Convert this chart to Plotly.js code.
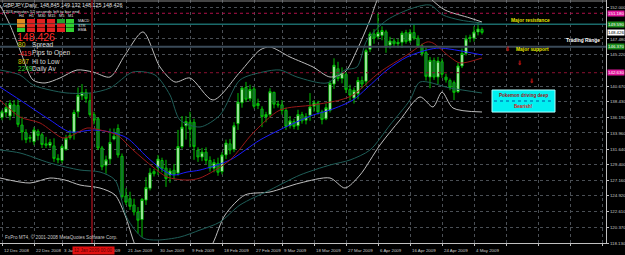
<!DOCTYPE html>
<html><head><meta charset="utf-8">
<script src="https://cdn.plot.ly/plotly-3.0.1.min.js"></script>
<style>html,body{margin:0;padding:0;background:#000;overflow:hidden}#chart{width:625px;height:255px}</style>
</head><body><div id="chart"></div>
<script>
// ---- OHLC (GBPJPY daily, bar index 0 = 12 Dec 2008) ----
const openP  = [136.2,136.9,136.4,138.0,137.9,135.1,134.0,133.2,132.7,134.2,133.7,132.4,132.2,132.1,130.3,130.0,131.6,133.3,134.0,137.0,139.3,139.8,138.6,136.6,136.0,131.8,129.3,130.2,133.1,134.6,130.6,124.9,124.5,123.6,122.6,121.5,124.3,126.0,128.4,129.0,130.0,128.9,127.9,128.6,128.2,132.0,135.0,135.5,135.5,131.5,130.5,131.2,130.0,128.9,129.6,128.4,130.8,132.4,131.6,135.3,138.3,140.5,138.9,140.3,137.9,137.4,136.3,136.6,139.8,138.1,138.0,137.2,135.0,135.6,135.0,136.6,135.8,136.5,137.8,138.3,137.0,136.0,137.2,141.0,143.2,141.8,142.4,140.2,139.0,139.6,141.5,141.4,146.0,148.2,147.8,148.0,148.5,146.6,147.2,146.8,147.0,148.4,147.2,148.4,147.6,146.5,145.5,142.0,144.4,142.0,144.2,142.0,141.5,141.2,139.9,143.6,145.4,147.6,147.6,148.5,148.845];
const highP  = [137.3,138.3,138.7,138.7,138.8,136.3,134.5,133.7,134.8,134.5,134.0,133.4,133.1,133.2,130.9,132.3,133.7,134.4,137.3,140.5,141.0,140.3,139.7,137.0,136.2,132.1,130.7,134.6,134.6,135.2,131.0,126.0,125.5,124.5,123.3,124.6,127.6,128.9,128.8,130.8,130.4,130.1,128.9,129.5,134.4,136.4,136.4,137.0,136.0,131.9,131.8,131.9,130.6,130.2,130.4,131.2,133.0,133.1,135.5,139.7,140.6,141.3,140.9,140.6,138.9,137.8,137.0,140.4,139.9,138.6,138.7,137.6,136.4,136.0,137.3,137.0,136.8,139.7,138.7,138.6,137.3,138.2,141.5,144.7,144.2,143.4,142.7,140.9,140.5,142.0,142.1,146.1,148.5,148.9,151.2,149.3,148.8,147.8,147.6,147.5,148.6,148.8,148.9,149.5,148.0,146.8,146.2,144.9,144.8,144.9,144.7,142.5,141.8,141.5,144.1,146.1,148.0,148.1,149.3,149.9,149.132];
const lowP   = [135.8,136.2,135.8,136.3,134.8,132.9,132.5,132.6,132.2,132.9,131.8,131.8,131.8,129.8,129.6,129.6,131.4,133.0,133.0,136.2,138.7,138.3,136.3,135.2,131.5,128.6,128.1,129.5,132.9,130.4,124.5,123.6,122.9,122.1,119.5,119.0,123.6,125.7,127.7,127.9,128.3,126.2,126.8,127.3,127.8,131.7,133.0,131.9,130.1,129.8,129.9,129.5,128.4,128.3,127.8,128.0,130.2,130.9,131.2,134.4,137.6,138.4,138.5,137.5,137.4,134.8,135.5,136.2,137.5,137.6,136.6,134.4,134.6,134.5,134.4,135.3,135.2,135.7,137.0,136.6,135.2,135.8,136.9,140.3,141.4,141.1,139.7,138.6,138.2,138.8,140.4,140.8,145.6,146.8,147.4,147.3,145.5,146.1,146.3,146.2,146.2,146.8,146.9,147.3,146.2,145.0,141.5,140.4,141.6,141.0,141.9,141.2,140.1,138.7,139.7,143.3,145.1,147.0,147.1,148.0,148.125];
const closeP = [137.0,137.6,138.2,137.0,135.2,134.1,133.0,133.3,134.4,133.6,132.3,132.2,132.6,130.3,130.1,132.0,133.2,133.6,136.9,139.4,139.8,138.9,136.6,135.8,131.8,129.1,130.1,132.6,133.5,130.8,124.8,124.0,123.4,122.6,121.4,124.4,126.1,128.2,128.1,130.2,128.8,127.4,128.5,128.0,132.0,134.8,135.6,134.5,132.0,130.5,131.2,130.0,128.9,129.7,128.3,130.8,132.5,131.5,135.0,138.4,140.4,138.8,140.2,137.8,138.2,136.3,136.6,139.9,138.1,138.0,137.2,134.9,135.7,134.9,136.6,135.7,136.3,137.7,138.3,137.0,135.9,137.6,141.1,143.7,141.8,142.6,140.2,139.4,140.1,141.5,141.0,145.8,148.2,147.6,148.4,148.7,146.3,147.2,146.8,147.0,148.3,147.1,148.4,147.6,146.5,145.4,142.1,144.4,142.0,144.3,142.4,141.6,140.5,139.8,143.6,145.4,147.5,147.7,148.5,148.9,148.426];

// ---- indicators (read at sample bars) ----
const maBlueX = [-0.5,4.5,12,17,22.75,27,31.25,36.25,39.5,42.75,46.25,49.5,57,64.5,72,77.75,82,87.75,91.25,96.25,101.25,106.25,109.5,120];
const maBlueY = [140.57,138.70,135.83,134.10,134.39,134.10,133.24,130.50,128.92,127.91,128.34,128.63,130.07,132.95,135.11,136.54,137.26,138.70,140.43,143.02,144.89,145.90,146.18,145.18];
const maRedX  = [-0.5,4.5,9.5,15.25,17.75,21.25,24.5,28.75,32.75,37.75,41.25,46.25,49.5,57,62.75,69.5,77.75,84.5,87.75,94.5,101.25,106.25,107.75,112,114.5,120];
const maRedY  = [138.70,136.26,135.40,133.24,133.67,134.67,134.39,133.67,131.51,129.06,127.62,127.19,127.48,130.07,133.95,137.26,137.98,138.70,139.42,142.73,145.18,147.05,146.90,144.89,144.03,144.75];
const bbOutUpX = [-0.5,2,4.5,7.75,10.75,14.5,18.75,22.75,27,30.75,35.25,39.5,43.25,47,52.75,59.5,64.5,67,72,77.75,82,85.75,88.75,92,94.5,99.5,104.5,107.5,110.75,117,120];
const bbOutUpY = [152.37,149.49,145.90,141.58,141.15,141.87,143.02,142.73,142.01,145.18,148.49,143.45,141.29,141.87,138.70,142.73,145.90,146.33,144.89,143.45,142.01,142.73,145.90,150.21,153.81,155.97,154.82,153.09,151.65,150.50,149.92];
const bbOutLoX = [-0.5,7,12,15.75,19.5,24.5,28.25,30.75,33.25,37,43.25,49.5,52.75,55.75,60.75,67,74.5,82,85.75,89.5,94.5,99.5,104.5,107.75,110,112.75,120];
const bbOutLoY = [127.48,126.76,127.48,127.19,126.47,126.04,125.04,122.16,117.84,113.53,112.09,114.97,118.13,122.16,125.04,125.47,126.76,127.48,126.04,127.91,132.23,135.83,139.14,137.70,139.85,137.55,136.98];
const bbInUpX = [-0.5,4.5,7.75,12,16.25,22,27,32.75,38.25,42,44.5,49.5,54.5,59.5,65.25,69.5,73.75,81.25,85.75,88.75,91.25,96.25,102.75,107,110.25,114.5,120];
const bbInUpY = [143.02,142.30,140.86,140.14,139.71,139.71,140.43,142.73,142.30,139.42,135.83,134.82,136.54,141.58,142.73,143.02,142.01,141.15,143.02,143.45,147.33,150.21,151.94,152.37,150.93,150.21,149.78];
const bbInLoX = [-0.5,4.5,12,19.5,24.5,28.25,31.25,35.25,38.75,44.5,49.5,54.5,59.5,67,74.5,82,87,92,97,102,104.5,112,120];
const bbInLoY = [131.51,131.08,129.64,128.63,128.34,127.19,121.73,118.85,118.56,118.99,120.00,121.15,123.60,125.76,127.91,129.35,130.07,131.51,135.11,138.70,141.29,140.43,139.71];

// ---- axes ----
const dateBars   = [0,8,15,23,31,39,47,55,63,70,78,86,94,102,110,118];
const dateLabels = ["12 Dec 2008","22 Dec 2008","3 Jan 2009","13 Jan 2009","21 Jan 2009","30 Jan 2009","9 Feb 2009","18 Feb 2009","27 Feb 2009","9 Mar 2009","18 Mar 2009","27 Mar 2009","6 Apr 2009","16 Apr 2009","24 Apr 2009","4 May 2009"];
const gridBars   = dateBars.concat([126,134,142,150]);
const priceTicks = [118.13,120.37,122.61,124.92,127.16,129.40,131.64,133.96,136.19,138.43,140.67,145.22,147.48,152.00];

// ---- horizontal levels ----
const levelPrices = [151.18,149.59,146.37,142.63];
const levelColors = ['#b0104a','#1a6a6a','#3a4a58','#8a1030'];
const levelDash   = ['dot','solid','solid','dot'];
const levelWidth  = [1,1.5,2,1];
const levelLabelBg = ['#e0169a','#1c8c1c','#1c8c1c','#e0169a'];
const lastPrice = 148.426;
const separatorBar = 22.5;

const W = 606, H = 243;
const px = x => x / W, py = y => 1 - y / H;
const FONT = 'Liberation Sans, Arial, sans-serif';
const bars = openP.map((_, i) => i);

const traces = [
  {type:'candlestick', x:bars, open:openP, high:highP, low:lowP, close:closeP,
   increasing:{line:{color:'#00c000',width:1}, fillcolor:'#ffffff'},
   decreasing:{line:{color:'#00c000',width:1}, fillcolor:'#1e4646'},
   whiskerwidth:0, hoverinfo:'skip', showlegend:false},
];
function line(xs, ys, color, w){
  traces.push({type:'scatter', mode:'lines', x:xs, y:ys, line:{color:color,width:w,shape:'spline',smoothing:0.8}, hoverinfo:'skip', showlegend:false});
}
line(bbOutUpX, bbOutUpY, '#bdbdbd', 1);
line(bbOutLoX, bbOutLoY, '#bdbdbd', 1);
line(bbInUpX, bbInUpY, '#1f5e58', 1);
line(bbInLoX, bbInLoY, '#1f5e58', 1);
line(maBlueX, maBlueY, '#1c1cff', 1);
line(maRedX, maRedY, '#9a1818', 1);

const shapes = [];
const annotations = [];
const TICKF = 4.4;
levelPrices.forEach((p, k) => {
  shapes.push({type:'line', xref:'paper', x0:0, x1:1, yref:'y', y0:p, y1:p, line:{color:levelColors[k], width:levelWidth[k], dash:levelDash[k]}});
  annotations.push({xref:'paper', x:1, xanchor:'left', xshift:1, yref:'y', y:p, yanchor:'middle', text:p.toFixed(3), showarrow:false,
    bgcolor:levelLabelBg[k], borderpad:0, font:{family:FONT, size:TICKF, color:'#ffffff'}});
});
annotations.push({xref:'paper', x:1, xanchor:'left', xshift:1, yref:'y', y:lastPrice, yanchor:'middle', text:lastPrice.toFixed(3), showarrow:false,
  bgcolor:'#ffffff', borderpad:0, font:{family:FONT, size:TICKF, color:'#000000'}});
shapes.push({type:'line', xref:'paper', x0:0, x1:1, yref:'paper', y0:py(1), y1:py(1), line:{color:'#8a8a8a', width:1}});
shapes.push({type:'line', xref:'x', x0:separatorBar, x1:separatorBar, yref:'paper', y0:0, y1:1, line:{color:'#6e0c14', width:2}});

dateBars.forEach((b, k) => {
  annotations.push({xref:'x', x:b, xanchor:'left', xshift:0, yref:'paper', y:py(250.5), yanchor:'middle', text:dateLabels[k], showarrow:false,
    font:{family:FONT, size:4.4, color:'#c8c8c8'}});
});
annotations.push({xref:'paper', x:px(72), xanchor:'left', yref:'paper', y:py(250.5), yanchor:'middle', text:'12 Jan 2009 00:00', showarrow:false,
  bgcolor:'#e01010', borderpad:1, font:{family:FONT, size:4.6, color:'#5a0000'}});
annotations.push({xref:'paper', x:px(3), xanchor:'left', yref:'paper', y:py(237), yanchor:'middle', text:'FxPro MT4, © 2001-2008 MetaQuotes Software Corp.', showarrow:false,
  font:{family:FONT, size:4.7, color:'#c8c8c8'}});

function txt(x, y, t, size, color, bold){
  annotations.push({xref:'paper', x:px(x), xanchor:'left', yref:'paper', y:py(y), yanchor:'middle', text: bold?('<b>'+t+'</b>'):t, showarrow:false,
    borderpad:0, font:{family:FONT, size:size, color:color}});
}
txt(2, 5, 'GBPJPY,Daily  148.845 149.132 148.125 148.426', 5.4, '#e0e0e0');
txt(2, 11, '1203 minutes 52 seconds left to bar end', 4.3, '#e0e0e0');
const tfNames = ['H4','H1','M30','M15','M5','M1'];
const colX = [17,27,37,47,57,66];
tfNames.forEach((n,k)=>{ annotations.push({xref:'paper', x:px(colX[k]+4), xanchor:'center', yref:'paper', y:py(16), yanchor:'middle', text:n, showarrow:false, font:{family:FONT,size:3.8,color:'#e0e0e0'}}); });
const tableColors = [
  ['#e08a20','#e02020','#e02020','#e02020','#20a030','#30d030'],
  ['#e08a20','#e02020','#e02020','#e02020','#e02020','#30d030'],
  ['#30d030','#e02020','#e02020','#e02020','#e02020','#30d030']];
const rowY = [[19,23],[23.5,27.5],[28,32]];
tableColors.forEach((row,r)=>row.forEach((c,k)=>{
  shapes.push({type:'rect', xref:'paper', yref:'paper', x0:px(colX[k]), x1:px(colX[k]+8), y0:py(rowY[r][1]), y1:py(rowY[r][0]), fillcolor:c, line:{width:0}});
}));
txt(77, 21, 'MACD', 3.8, '#e0e0e0');
txt(77, 25.5, 'STR', 3.8, '#e0e0e0');
txt(77, 30, 'EMA', 3.8, '#e0e0e0');
txt(16, 36.5, '148.426', 10.5, '#ff2a2a');
txt(17, 45, '80', 6.6, '#d8d000'); txt(31, 45, 'Spread', 6.6, '#d8d8d8');
txt(17, 53, '-419', 6.6, '#ff3030'); txt(31, 53, 'Pips to Open', 6.6, '#d8d8d8');
txt(17, 61, '807', 6.6, '#d8c000'); txt(31, 61, 'Hi to Low', 6.6, '#d8d8d8');
txt(17, 69, '2249', 6.6, '#30d030'); txt(31, 69, 'Daily Av', 6.6, '#d8d8d8');

function objText(b, p, t, color, size){
  annotations.push({xref:'x', x:b, yref:'y', y:p, xanchor:'center', yanchor:'middle', text:'<b>'+t+'</b>', showarrow:false, font:{family:FONT,size:size,color:color}});
}
objText(132, 150.07, 'Major resistance', '#e8e800', 4.9);
objText(145.2, 147.31, 'Trading Range', '#ffffff', 4.9);
objText(132.5, 146.04, 'Major support', '#e8e800', 4.9);
objText(126.25, 146.04, '⇓', '#c01818', 6);
objText(129.25, 144.03, '⇓', '#c01818', 6);
objText(132.25, 141.44, '⇓', '#c01818', 6);
shapes.push({type:'rect', xref:'x', yref:'y', x0:122.5, x1:138.25, y0:136.97, y1:140.14, fillcolor:'#00f0f0', line:{color:'#b0ffff', width:1}});
shapes.push({type:'line', xref:'x', yref:'y', x0:123, x1:137.75, y0:138.56, y1:138.56, line:{color:'#0050a0', width:1, dash:'dot'}});
objText(130.4, 139.42, 'Pokemon driving deep', '#a01010', 4.6);
objText(130.4, 137.8, 'Bearish!', '#e01010', 4.6);

const layout = {
  width:625, height:255, paper_bgcolor:'#000', plot_bgcolor:'#000',
  margin:{l:0, r:19, t:0, b:12}, showlegend:false, boxgap:0.22,
  xaxis:{range:[-0.5,151], tickvals:gridBars, showticklabels:false, ticks:'outside', ticklen:2, tickcolor:'#c0c0c0',
    showgrid:true, gridcolor:'#4a4f55', griddash:'dot', gridwidth:1, showline:true, linecolor:'#c0c0c0', linewidth:1,
    zeroline:false, rangeslider:{visible:false}, fixedrange:true},
  yaxis:{side:'right', range:[118.13,153.09], tickvals:priceTicks, ticktext:priceTicks.map(v=>v.toFixed(3)),
    tickfont:{family:FONT, size:TICKF, color:'#c8c8c8'}, ticks:'outside', ticklen:2, tickcolor:'#c0c0c0',
    showgrid:true, gridcolor:'#4a4f55', griddash:'dot', gridwidth:1, showline:true, linecolor:'#c0c0c0', linewidth:1,
    zeroline:false, fixedrange:true},
  shapes:shapes, annotations:annotations
};
Plotly.newPlot('chart', traces, layout, {displayModeBar:false, staticPlot:true});
</script>
</body></html>
